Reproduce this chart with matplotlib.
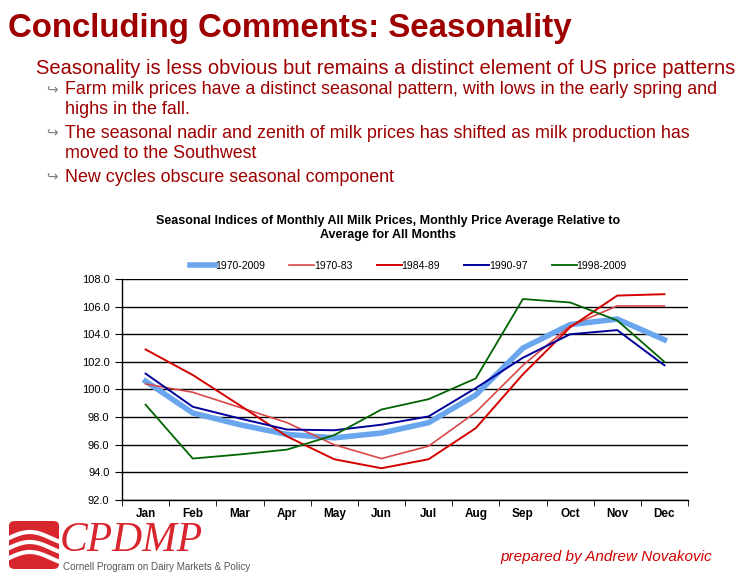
import matplotlib
matplotlib.use("Agg")
import matplotlib.pyplot as plt
from matplotlib.patches import FancyBboxPatch
import numpy as np

months = ["Jan", "Feb", "Mar", "Apr", "May", "Jun", "Jul", "Aug", "Sep", "Oct", "Nov", "Dec"]
s_1970_2009 = [100.6, 98.3, 97.45, 96.75, 96.5, 96.85, 97.6, 99.6, 103.0, 104.7, 105.1, 103.6]
s_1970_83 = [100.4, 99.8, 98.7, 97.6, 96.0, 95.0, 95.9, 98.35, 101.75, 104.6, 106.05, 106.05]
s_1984_89 = [102.9, 101.05, 98.85, 96.6, 94.95, 94.3, 94.95, 97.2, 101.1, 104.5, 106.8, 106.9]
s_1990_97 = [101.15, 98.75, 97.9, 97.1, 97.05, 97.45, 98.05, 100.1, 102.3, 104.0, 104.3, 101.75]
s_1998_2009 = [98.9, 95.0, 95.3, 95.65, 96.7, 98.55, 99.3, 100.8, 106.55, 106.3, 105.0, 102.0]

W, H = 746, 577
dark_red = "#9e0000"
narrow = ["Liberation Sans Narrow", "Liberation Sans", "DejaVu Sans"]

fig = plt.figure(figsize=(W / 100, H / 100), dpi=100)
fig.patch.set_facecolor("white")

def fx(px):
    return px / W

def fy(py):
    return 1 - py / H

# slide text
fig.text(fx(8), fy(29), "Concluding Comments: Seasonality", color=dark_red, fontsize=23.8,
         fontweight="bold", family="Liberation Sans", va="center")
fig.text(fx(36), fy(68), "Seasonality is less obvious but remains a distinct element of US price patterns",
         color=dark_red, fontsize=14.5, family="Liberation Sans", va="center")
bullets = [
    (90, "Farm milk prices have a distinct seasonal pattern, with lows in the early spring and", True),
    (110, "highs in the fall.", False),
    (133, "The seasonal nadir and zenith of milk prices has shifted as milk production has", True),
    (154, "moved to the Southwest", False),
    (177, "New cycles obscure seasonal component", True),
]
for yy, txt, arrow in bullets:
    if arrow:
        fig.text(fx(46), fy(yy - 1), "\u21aa", color="#808080", fontsize=10, family="DejaVu Sans", va="center")
    fig.text(fx(65), fy(yy), txt, color=dark_red, fontsize=12.9, family="Liberation Sans", va="center")

# chart
ax = fig.add_axes([fx(122), fy(500), fx(688) - fx(122), fy(279) - fy(500)])
x = np.arange(len(months))
ax.plot(x, s_1970_2009, color="#6aa6ee", lw=4, label="1970-2009", solid_joinstyle="miter")
ax.plot(x, s_1970_83, color="#d84848", lw=1.2, label="1970-83")
ax.plot(x, s_1984_89, color="#d40000", lw=1.4, label="1984-89")
ax.plot(x, s_1990_97, color="#00009a", lw=1.4, label="1990-97")
ax.plot(x, s_1998_2009, color="#006400", lw=1.3, label="1998-2009")

ax.set_xlim(-0.5, 11.5)
ax.set_ylim(92, 108)
ax.set_yticks(np.arange(92, 108.1, 2))
ax.set_yticklabels([f"{v:.1f}" for v in np.arange(92, 108.1, 2)], family=narrow, fontsize=8)
ax.yaxis.grid(True, color="black", lw=1)
ax.set_axisbelow(True)
ax.set_xticks(x)
ax.set_xticklabels(months, family=narrow, fontsize=8.5, fontweight="bold")
ax.set_xticks(np.arange(-0.5, 11.6, 1), minor=True)
ax.tick_params(axis="x", which="major", length=0, pad=6)
ax.tick_params(axis="x", which="minor", length=4, direction="out")
ax.tick_params(axis="y", length=5, direction="out", pad=4)
for side in ["top", "right"]:
    ax.spines[side].set_visible(False)
ax.spines["left"].set_linewidth(1)
ax.spines["bottom"].set_linewidth(1)

fig.text(fx(388), fy(221), "Seasonal Indices of Monthly All Milk Prices, Monthly Price Average Relative to",
         ha="center", va="center", fontsize=9.0, fontweight="bold", family=narrow)
fig.text(fx(388), fy(235), "Average for All Months",
         ha="center", va="center", fontsize=9.0, fontweight="bold", family=narrow)

fig.legend(loc="center", bbox_to_anchor=(fx(408.5), fy(266)), ncol=5, frameon=False,
           prop={"family": narrow, "size": 7.5}, handlelength=2.4, handletextpad=0.0,
           columnspacing=2.3)

# footer logo
logo = FancyBboxPatch((fx(9), fy(569)), fx(50), fy(521) - fy(569),
                      boxstyle="round,pad=0,rounding_size=0.008", transform=fig.transFigure,
                      facecolor="#d8262e", edgecolor="none")
fig.patches.append(logo)
wx = np.linspace(9, 59, 40)
for off in [0, 10, 20]:
    wy = 548 + off - 10 - 6 * np.sin((wx - 9) / 50 * np.pi * 1.2)
    fig.lines.append(plt.Line2D(fx(wx), fy(wy), transform=fig.transFigure, color="white", lw=3))
fig.text(fx(60), fy(541), "CPDMP", color="#d8262e", fontsize=30, style="italic",
         family="Liberation Serif", va="center")
fig.text(fx(63), fy(567), "Cornell Program on Dairy Markets & Policy", color="#555555",
         fontsize=7.1, family="Liberation Sans", va="center")
fig.text(fx(500), fy(557), "prepared by Andrew Novakovic", color="#d00000", fontsize=11,
         style="italic", family="Liberation Sans", va="center")

fig.savefig("out.png", dpi=100)
